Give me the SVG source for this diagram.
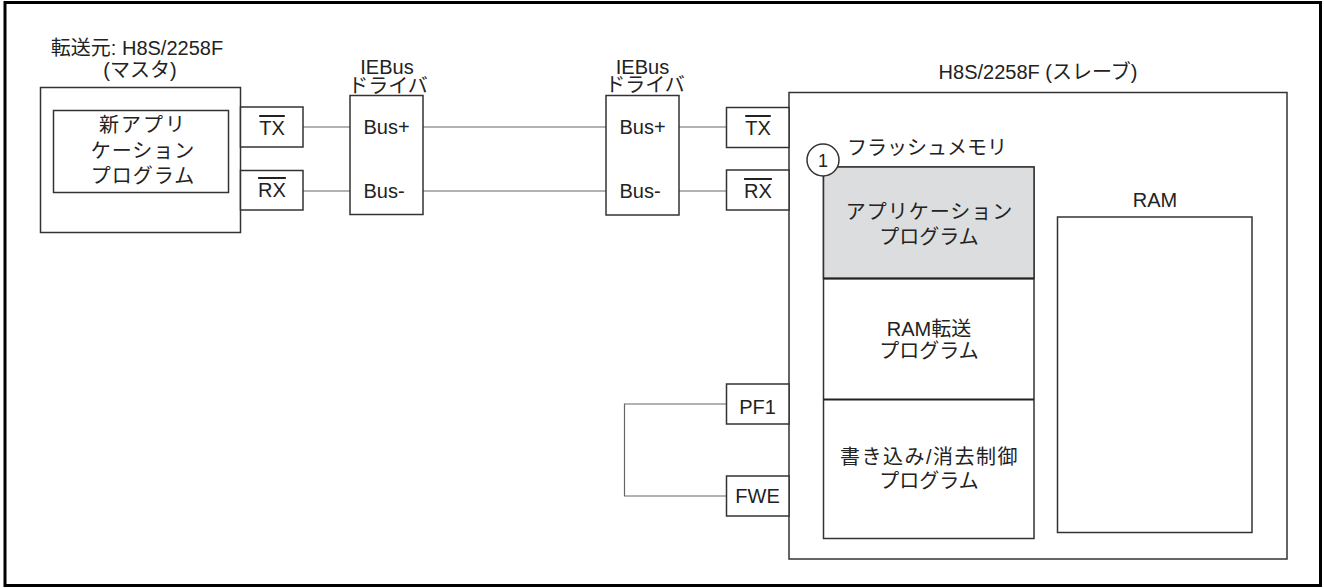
<svg xmlns="http://www.w3.org/2000/svg" width="1324" height="588" viewBox="0 0 1324 588">
<style>
text{font-family:"Liberation Sans","Noto Sans CJK JP",sans-serif;font-size:20px;fill:#222;text-anchor:middle}
.box{fill:#fff;stroke:#333;stroke-width:1.5}
.thick{stroke:#222;stroke-width:2.2;fill:none}
.wire{stroke:#666;stroke-width:1.2;fill:none}
.ol{text-decoration:overline}
.ls1{letter-spacing:1px}
.ls2{letter-spacing:2px}
</style>
<rect x="5" y="2.5" width="1315.5" height="583" fill="#fff" stroke="#000" stroke-width="3"/>
<g id="connectors">
<line class="wire" x1="303" y1="127" x2="350" y2="127"/>
<line class="wire" x1="423" y1="127" x2="606" y2="127"/>
<line class="wire" x1="679" y1="127" x2="726.5" y2="127"/>
<line class="wire" x1="303" y1="191" x2="350" y2="191"/>
<line class="wire" x1="423" y1="191" x2="606" y2="191"/>
<line class="wire" x1="679" y1="191" x2="726.5" y2="191"/>
<polyline class="wire" points="726.5,404 624.5,404 624.5,496 726.5,496"/>
</g>
<g id="master">
<text x="137" y="55">転送元: H8S/2258F</text>
<text x="140" y="77">(マスタ)</text>
<rect class="box" x="40.5" y="87.5" width="200" height="145"/>
<rect class="box" x="53.5" y="110.5" width="175" height="82"/>
<text class="ls2" x="143" y="132">新アプリ</text>
<text class="ls1" x="143" y="158">ケーション</text>
<text class="ls1" x="143" y="183">プログラム</text>
</g>
<g id="master-tx">
<rect class="box" x="240.5" y="107" width="62.5" height="40"/>
<text class="ol" x="272" y="135">TX</text>
</g>
<g id="master-rx">
<rect class="box" x="240.5" y="170.5" width="62.5" height="39.5"/>
<text class="ol" x="272" y="197">RX</text>
</g>
<g id="driver1">
<text x="387" y="74">IEBus</text>
<text x="388" y="93">ドライバ</text>
<rect class="box" x="350" y="95.5" width="73" height="119"/>
<text x="386.5" y="134">Bus+</text>
<text x="384" y="198">Bus-</text>
</g>
<g id="driver2">
<text x="642.5" y="74">IEBus</text>
<text x="645" y="92">ドライバ</text>
<rect class="box" x="606" y="95.5" width="73" height="119.5"/>
<text x="642.5" y="134">Bus+</text>
<text x="640" y="198">Bus-</text>
</g>
<g id="slave">
<text x="1038" y="79">H8S/2258F (スレーブ)</text>
<rect class="box" x="789" y="92.5" width="498" height="466.5"/>
</g>
<g id="slave-tx">
<rect class="box" x="726.5" y="107.5" width="62.5" height="40"/>
<text class="ol" x="758" y="135">TX</text>
</g>
<g id="slave-rx">
<rect class="box" x="726.5" y="170" width="62.5" height="40"/>
<text class="ol" x="758" y="198">RX</text>
</g>
<g id="pf1">
<rect class="box" x="726.5" y="384" width="62.5" height="40"/>
<text x="757.5" y="414">PF1</text>
</g>
<g id="fwe">
<rect class="box" x="726.5" y="476" width="62.5" height="40"/>
<text x="757.5" y="503">FWE</text>
</g>
<g id="flash">
<text x="847" y="155" style="text-anchor:start">フラッシュメモリ</text>
<rect class="box" x="823.5" y="167" width="210.5" height="371.5"/>
<rect x="823.5" y="167" width="210.5" height="111.5" fill="#dcdddf" stroke="#333" stroke-width="1.5"/>
<line class="thick" x1="823.5" y1="278.5" x2="1034" y2="278.5"/>
<line class="thick" x1="823.5" y1="399.5" x2="1034" y2="399.5"/>
<text class="ls1" x="929.5" y="219">アプリケーション</text>
<text x="929" y="244">プログラム</text>
<text x="929" y="336">RAM転送</text>
<text x="929" y="358">プログラム</text>
<text x="929.5" y="464" style="letter-spacing:1.5px">書き込み/消去制御</text>
<text x="929" y="488">プログラム</text>
</g>
<g id="marker1">
<circle cx="823" cy="160" r="16" fill="#fff" stroke="#333" stroke-width="1.5"/>
<text x="823" y="167" style="font-size:18px">1</text>
</g>
<g id="ram">
<text x="1155" y="207">RAM</text>
<rect class="box" x="1057.5" y="217" width="194.5" height="315.5"/>
</g>
</svg>
